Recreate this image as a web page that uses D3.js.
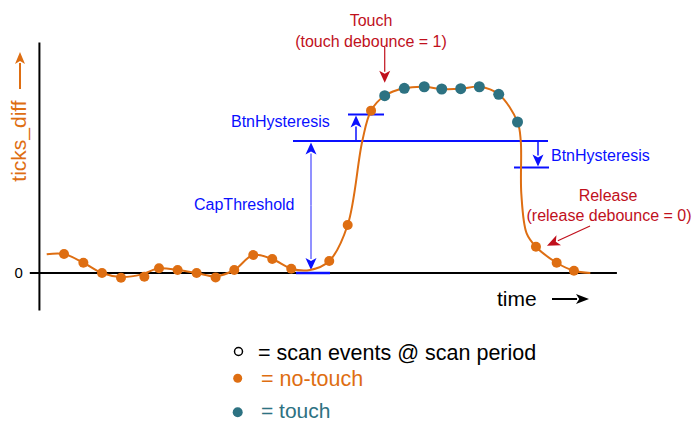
<!DOCTYPE html>
<html>
<head>
<meta charset="utf-8">
<script src="https://cdn.jsdelivr.net/npm/d3@7"></script>
<style>
  html, body { margin: 0; padding: 0; background: #fff; }
  svg { display: block; font-family: "Liberation Sans", Arial, sans-serif; }
</style>
</head>
<body>
<svg id="chart" width="694" height="421"></svg>
<script>
// Scan samples: time (in scan periods) and ticks_diff value
const sampleTimes  = [1.0, 2.02, 3.0, 4.0, 5.23, 6.0, 6.98, 7.98, 8.98, 9.96, 10.96, 11.96, 12.96,
                      14.96, 15.93, 17.16, 17.88, 18.91, 19.96, 20.88, 21.88, 22.86, 23.88, 24.87,
                      25.84, 26.93, 27.84];
const sampleValues = [14.4, 7.8, 0, -3.6, -2.8, 3.6, 2.3, 0, -3.3, 2.3, 13.6, 10.6, 3.3,
                      9.1, 36.4, 123, 134.3, 139.9, 141.1, 139.4, 139.6, 141.1, 135.4, 114.4,
                      19.9, 7.8, 1.7];
// Sample state: 0 = no-touch, 1 = touch
const sampleStates = [0, 0, 0, 0, 0, 0, 0, 0, 0, 0, 0, 0, 0,
                      0, 0, 0, 1, 1, 1, 1, 1, 1, 1, 1,
                      0, 0, 0];

// Underlying continuous signal trace
const signalTimes  = [0.09, 1.0, 2.02, 3.0, 4.0, 5.1, 6.0, 6.98, 7.98, 8.98, 9.96, 10.96, 11.96, 12.96,
                      13.95, 14.96, 15.93, 16.7, 17.16, 17.88, 18.91, 19.96, 20.88, 21.88, 22.86, 23.88,
                      24.87, 25.04, 25.07, 25.35, 25.84, 26.93, 27.84, 28.7];
const signalValues = [14.2, 14.4, 7.8, 0, -3.0, -1.0, 3.6, 2.3, 0, -2.5, 2.3, 13.6, 10.6, 3.3,
                      2.3, 9.1, 36.4, 100, 123, 134.3, 139.9, 141.1, 139.4, 139.6, 141.1, 135.4,
                      114.4, 100, 60, 30, 19.9, 7.8, 1.7, 0];

const capThreshold = 100;
const btnHysteresis = 20;
const yTickValues = [0];
const yTickLabels = ["0"];

const orange = "#de6e12";
const teal = "#2d7282";
const red = "#c0101c";
const blue = "#0a10ff";
const lightBlue = "#6c6cff";

const svg = d3.select("#chart");

const x = d3.scaleLinear().domain([0, 30]).range([45, 615]);
const y = d3.scaleLinear().domain([-28, 175]).range([310, 42]);

// arrow helper: line from (x1,y1) to (x2,y2) with filled head at the end
function arrow(g, x1, y1, x2, y2, lineColor, headColor, len, halfW, width) {
  const a = Math.atan2(y2 - y1, x2 - x1);
  const bx = x2 - len * Math.cos(a), by = y2 - len * Math.sin(a);
  g.append("line").attr("x1", x1).attr("y1", y1).attr("x2", bx + 1 * Math.cos(a)).attr("y2", by + 1 * Math.sin(a))
    .attr("stroke", lineColor).attr("stroke-width", width);
  const px = -Math.sin(a) * halfW, py = Math.cos(a) * halfW;
  const notch = len * 0.25;
  const nx = bx + notch * Math.cos(a), ny = by + notch * Math.sin(a);
  g.append("path")
    .attr("d", `M${x2},${y2}L${bx + px},${by + py}L${nx},${ny}L${bx - px},${by - py}Z`)
    .attr("fill", headColor);
}

// axes
const yAxis = d3.axisLeft(y).tickValues(yTickValues).tickFormat((d, i) => yTickLabels[i])
  .tickSize(0).tickPadding(16);
const gy = svg.append("g").attr("transform", `translate(${x(-0.32)},0)`).call(yAxis);
gy.select(".domain").attr("stroke", "#000").attr("stroke-width", 2);
gy.selectAll("text").attr("font-size", 15).attr("fill", "#000").attr("font-family", "Liberation Sans, Arial, sans-serif");

svg.append("line")
  .attr("x1", x(-0.8)).attr("x2", x(30.1))
  .attr("y1", y(0)).attr("y2", y(0))
  .attr("stroke", "#000").attr("stroke-width", 2);

// axis titles
svg.append("text").attr("transform", `translate(26,${(100 + 182) / 2}) rotate(-90)`)
  .attr("text-anchor", "middle").attr("font-size", 21).attr("fill", orange).text("ticks_diff");
arrow(svg, 20, 89, 20, 52, orange, orange, 12, 5, 2);

svg.append("text").attr("x", 497).attr("y", 306).attr("font-size", 21).attr("fill", "#000").text("time");
arrow(svg, 552, 299, 589, 299, "#000", "#000", 13, 5, 2);

// threshold and hysteresis lines
const thrY = y(capThreshold);
svg.append("line").attr("x1", 293).attr("x2", 548).attr("y1", thrY).attr("y2", thrY)
  .attr("stroke", blue).attr("stroke-width", 2);
svg.append("line").attr("x1", 296).attr("x2", 330).attr("y1", y(0)).attr("y2", y(0))
  .attr("stroke", blue).attr("stroke-width", 2.5);
svg.append("line").attr("x1", 348).attr("x2", 384)
  .attr("y1", y(capThreshold + btnHysteresis)).attr("y2", y(capThreshold + btnHysteresis))
  .attr("stroke", blue).attr("stroke-width", 2);
svg.append("line").attr("x1", 514).attr("x2", 549)
  .attr("y1", y(capThreshold - btnHysteresis)).attr("y2", y(capThreshold - btnHysteresis))
  .attr("stroke", blue).attr("stroke-width", 2);

// CapThreshold double arrow
const capX = 311;
arrow(svg, capX, (thrY + y(2.3)) / 2, capX, thrY + 1.5, lightBlue, blue, 12, 5.5, 1.5);
arrow(svg, capX, (thrY + y(2.3)) / 2, capX, y(2.3), lightBlue, blue, 12, 5.5, 1.5);
svg.append("text").attr("x", 194).attr("y", 210).attr("font-size", 16).attr("fill", blue).text("CapThreshold");

// hysteresis arrows
arrow(svg, 356, thrY, 356, y(capThreshold + btnHysteresis) + 1, blue, blue, 12, 5.5, 1.5);
svg.append("text").attr("x", 231).attr("y", 127).attr("font-size", 16).attr("fill", blue).text("BtnHysteresis");
arrow(svg, 538, thrY, 538, y(capThreshold - btnHysteresis) - 1, blue, blue, 12, 5.5, 1.5);
svg.append("text").attr("x", 551).attr("y", 161).attr("font-size", 16).attr("fill", blue).text("BtnHysteresis");

// signal trace
const line = d3.line().x((d, i) => x(signalTimes[i])).y((d, i) => y(signalValues[i]))
  .curve(d3.curveCatmullRom.alpha(0.5));
svg.append("path").datum(signalTimes).attr("d", line)
  .attr("fill", "none").attr("stroke", orange).attr("stroke-width", 2);

// scan samples
svg.append("g").selectAll("circle").data(sampleTimes).join("circle")
  .attr("cx", d => x(d))
  .attr("cy", (d, i) => y(sampleValues[i]))
  .attr("r", (d, i) => sampleStates[i] ? 5.5 : 5)
  .attr("fill", (d, i) => sampleStates[i] ? teal : orange);

// touch / release annotations
const touchIdx = sampleStates.indexOf(1);
const releaseIdx = sampleStates.indexOf(0, touchIdx);
const tx = x(sampleTimes[touchIdx]);
arrow(svg, tx, 47, tx, y(sampleValues[touchIdx]) - 13, red, red, 12, 5.5, 1.2);
svg.append("text").attr("x", 371).attr("y", 26).attr("text-anchor", "middle")
  .attr("font-size", 16).attr("fill", red).text("Touch");
svg.append("text").attr("x", 371).attr("y", 47).attr("text-anchor", "middle")
  .attr("font-size", 16).attr("fill", red).text("(touch debounce = 1)");

const rx = x(sampleTimes[releaseIdx]), ry = y(sampleValues[releaseIdx]);
arrow(svg, 590, 226, rx + 11, ry - 1, red, red, 13, 5.5, 1.2);
svg.append("text").attr("x", 608).attr("y", 201).attr("text-anchor", "middle")
  .attr("font-size", 16).attr("fill", red).text("Release");
svg.append("text").attr("x", 609).attr("y", 221).attr("text-anchor", "middle")
  .attr("font-size", 16).attr("fill", red).text("(release debounce = 0)");

// legend
const legend = svg.append("g");
legend.append("circle").attr("cx", 238.5).attr("cy", 351.5).attr("r", 4)
  .attr("fill", "#fff").attr("stroke", "#000").attr("stroke-width", 1.5);
legend.append("text").attr("x", 258).attr("y", 359.5).attr("font-size", 21.5).attr("fill", "#000")
  .text("= scan events @ scan period");
legend.append("circle").attr("cx", 237.7).attr("cy", 378.3).attr("r", 4.5).attr("fill", orange);
legend.append("text").attr("x", 261).attr("y", 385.5).attr("font-size", 21.5).attr("fill", orange)
  .text("= no-touch");
legend.append("circle").attr("cx", 237.7).attr("cy", 412.3).attr("r", 5).attr("fill", teal);
legend.append("text").attr("x", 261).attr("y", 417.5).attr("font-size", 21).attr("fill", teal)
  .text("= touch");
</script>
</body>
</html>
